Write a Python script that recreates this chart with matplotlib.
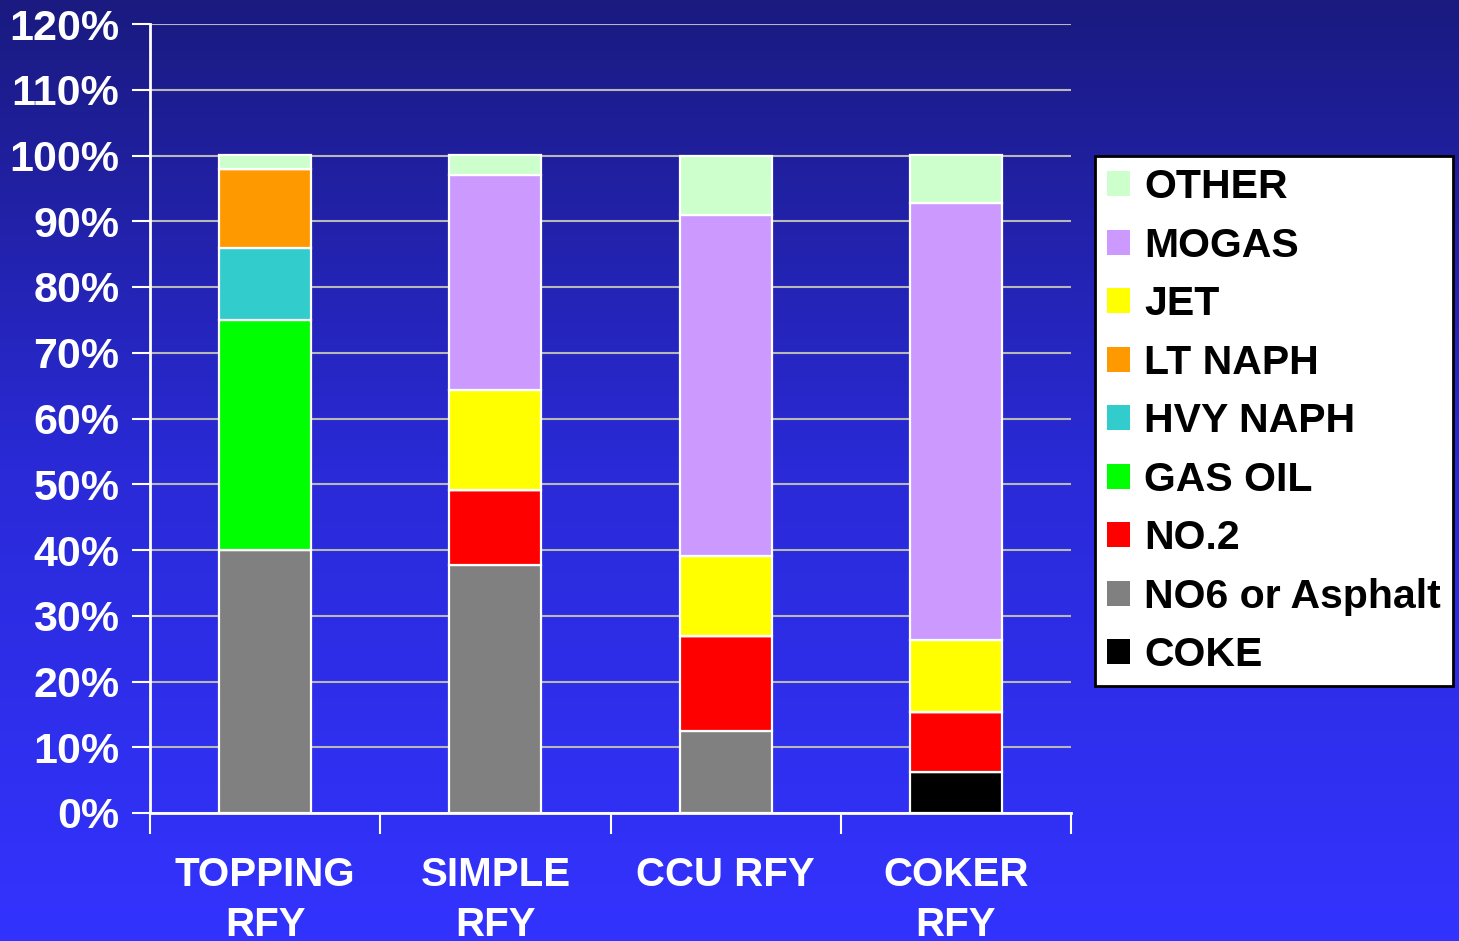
import numpy as np
import matplotlib.pyplot as plt
from matplotlib.colors import LinearSegmentedColormap
from matplotlib.patches import Patch

plt.rcParams['font.family'] = ['Liberation Sans', 'DejaVu Sans']
plt.rcParams['font.weight'] = 'bold'

# Data (% of crude, stacked bottom to top)
refineries = ['TOPPING\nRFY', 'SIMPLE\nRFY', 'CCU RFY', 'COKER\nRFY']
products = ['COKE', 'NO6 or Asphalt', 'NO.2', 'GAS OIL', 'HVY NAPH',
            'LT NAPH', 'JET', 'MOGAS', 'OTHER']
colors = ['#000000', '#808080', '#ff0000', '#00ff00', '#33cccc',
          '#ff9900', '#ffff00', '#cc99ff', '#ccffcc']
coke = [0, 0, 0, 6.2]
no6 = [40.0, 37.7, 12.5, 0]
no2 = [0, 11.5, 14.4, 9.2]
gas_oil = [35.0, 0, 0, 0]
hvy_naph = [11.0, 0, 0, 0]
lt_naph = [12.0, 0, 0, 0]
jet = [0, 15.2, 12.2, 10.9]
mogas = [0, 32.7, 51.8, 66.5]
other = [2.0, 2.9, 9.1, 7.2]
series = [coke, no6, no2, gas_oil, hvy_naph, lt_naph, jet, mogas, other]

fig = plt.figure(figsize=(14.59, 9.41), dpi=100)

# gradient background
bg = fig.add_axes([0, 0, 1, 1], zorder=-10)
cmap = LinearSegmentedColormap.from_list('bg', ['#1a1a80', '#2a2ad8', '#3333ff'])
bg.imshow(np.linspace(0, 1, 256).reshape(-1, 1), aspect='auto', cmap=cmap,
          extent=[0, 1, 0, 1])
bg.axis('off')

ax = fig.add_axes([150 / 1459, 1 - 813 / 941, 921 / 1459, 789 / 941])
ax.patch.set_alpha(0)

x = np.arange(len(refineries))
bottom = np.zeros(len(refineries))
for vals, col in zip(series, colors):
    vals = np.array(vals, dtype=float)
    ax.bar(x, vals, 0.4, bottom=bottom, color=col, edgecolor='white',
           linewidth=1.6, zorder=3)
    bottom += vals

ax.set_xlim(-0.5, 3.5)
ax.set_ylim(0, 120)
ax.set_yticks(np.arange(0, 121, 10))
ax.set_yticklabels([f'{v}%' for v in range(0, 121, 10)])
ax.yaxis.grid(True, color='#b8b8b8', linewidth=1.5, zorder=0)
ax.set_xticks(np.arange(-0.5, 4, 1))
ax.set_xticklabels([])
ax.set_xticks(x, minor=True)
ax.set_xticklabels(refineries, minor=True)
ax.tick_params(axis='x', which='major', length=15, width=1.5, color='white')
ax.tick_params(axis='x', which='minor', length=0, pad=31, labelsize=29,
               labelcolor='white')
ax.tick_params(axis='y', length=13, width=1.5, color='white', labelsize=31,
               labelcolor='white', pad=9)
for lbl in ax.get_xticklabels(minor=True):
    lbl.set_verticalalignment('top')
    lbl.set_linespacing(1.4)
for s in ['top', 'right']:
    ax.spines[s].set_visible(False)
for s in ['left', 'bottom']:
    ax.spines[s].set_color('white')
    ax.spines[s].set_linewidth(2)

handles = [Patch(facecolor=c, edgecolor='none') for c in colors][::-1]
leg = fig.legend(handles, products[::-1], loc='upper left',
                 bbox_to_anchor=(1095 / 1459, 1 - 156 / 941),
                 borderaxespad=0, fontsize=29.5, frameon=True, fancybox=False,
                 edgecolor='black', facecolor='white', framealpha=1,
                 handlelength=0.55, handleheight=0.55, handletextpad=0.35,
                 labelspacing=0.5, borderpad=0.3)
leg.get_frame().set_linewidth(2)

fig.savefig('out.png', dpi=100)
